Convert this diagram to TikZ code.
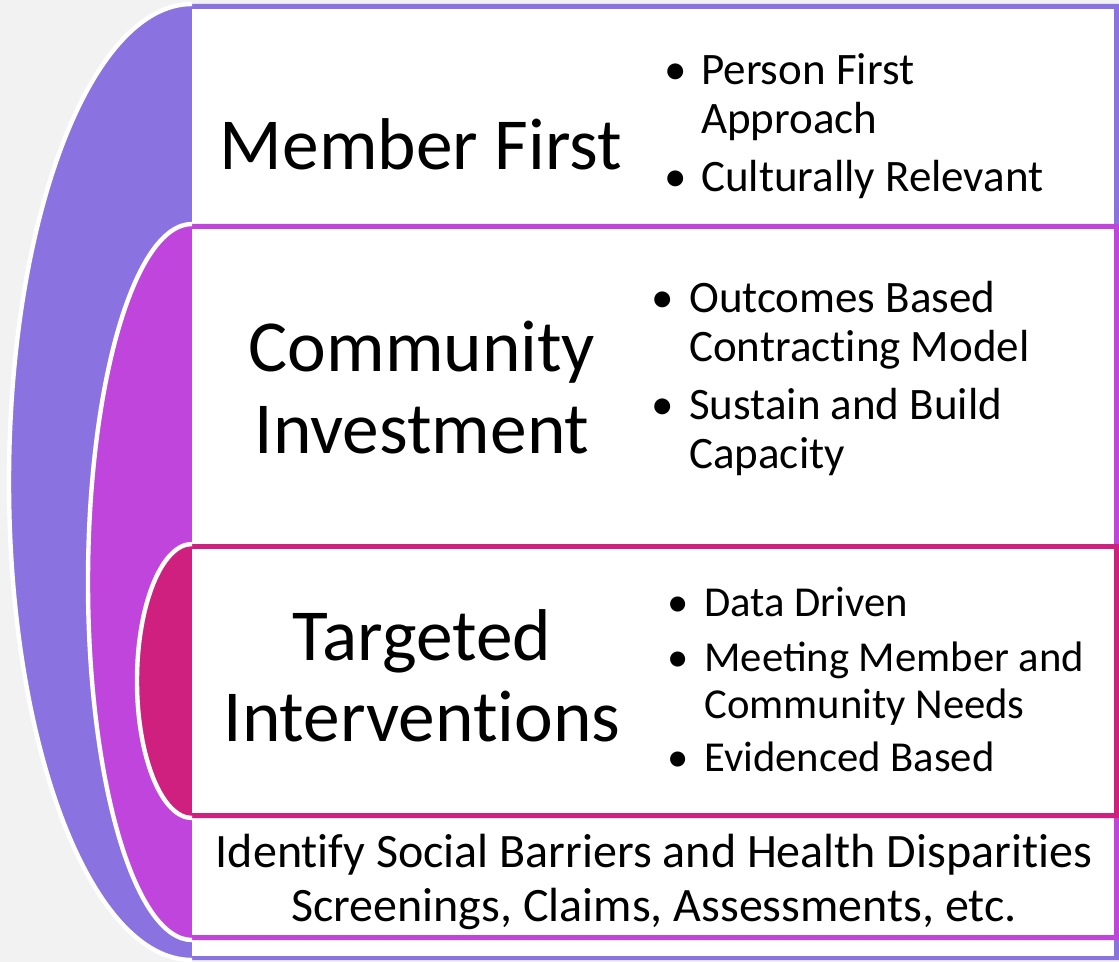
\documentclass[tikz,border=0pt]{standalone}
\usepackage{fontspec}
\setmainfont{Carlito}
\newcommand\nolig{\kern0pt }
\definecolor{cpurple}{HTML}{8A73E0}
\definecolor{cmag}{HTML}{C045DC}
\definecolor{ccrim}{HTML}{CF2080}
\definecolor{cbg}{HTML}{F2F2F2}
\begin{document}
\begin{tikzpicture}[x=0.75pt,y=-0.75pt,
  titletext/.style={font=\fontsize{55}{60}\selectfont, anchor=base, inner sep=0pt},
  bultext/.style={font=\fontsize{33.75}{37}\selectfont, anchor=base west, inner sep=0pt},
  bulsmall/.style={font=\fontsize{32}{35}\selectfont, anchor=base west, inner sep=0pt},
  dotmark/.style={font=\fontsize{33.75}{37}\selectfont, anchor=base, inner sep=0pt},
  dotsmall/.style={font=\fontsize{32}{35}\selectfont, anchor=base, inner sep=0pt},
  basetext/.style={font=\fontsize{36}{40}\selectfont, anchor=base, inner sep=0pt},
  rim/.style={draw=white, line width=3.3pt}]
\fill[cbg] (0,0) rectangle (1119,962);
\useasboundingbox (0,0) rectangle (1119,962);
% outer purple layer
\fill[cpurple] (1119,4) -- (192,4) arc[start angle=270,end angle=90,x radius=183,y radius=478] -- (1119,960) -- cycle;
\draw[rim] (192,4) arc[start angle=270,end angle=90,x radius=183,y radius=478];
\fill[white] (192,9) rectangle (1114,956);
% magenta layer
\fill[cmag] (1119,224) -- (192,224) arc[start angle=270,end angle=90,x radius=104,y radius=358] -- (1119,940) -- cycle;
\draw[rim] (192,224) arc[start angle=270,end angle=90,x radius=104,y radius=358];
\fill[white] (192,229) rectangle (1114,935);
% crimson layer
\fill[ccrim] (1119,544) -- (192,544) arc[start angle=270,end angle=90,x radius=55,y radius=137] -- (1119,818) -- cycle;
\draw[rim] (192,544) arc[start angle=270,end angle=90,x radius=55,y radius=137];
\fill[white] (192,549) rectangle (1114,813);

% titles
\node[titletext] (t1) at (421,170) {Member First};
\node[titletext] (t2a) at (422,371) {Community};
\node[titletext] (t2b) at (422,453) {Investment};
\node[titletext] (t3a) at (422,660) {Targeted};
\node[titletext] (t3b) at (422,741) {Intervent\nolig ions};

% section 1 bullets
\node[dotmark] (d11) at (676,85) {•};
\node[bultext] (b11) at (701,85) {Person First};
\node[bultext] (b12) at (701,134) {Approach};
\node[dotmark] (d12) at (676,192) {•};
\node[bultext] (b13) at (701,192) {Culturally Relevant};

% section 2 bullets
\node[dotmark] (d21) at (663,312) {•};
\node[bultext] (b21) at (689,312) {Outcomes Based};
\node[bultext] (b22) at (689,361) {Contract\nolig ing Model};
\node[dotmark] (d22) at (663,419) {•};
\node[bultext] (b23) at (689,419) {Sustain and Build};
\node[bultext] (b24) at (689,468) {Capacity};

% section 3 bullets
\node[dotsmall] (d31) at (678,616) {•};
\node[bulsmall] (b31) at (704,616) {Data Driven};
\node[dotsmall] (d32) at (678,671) {•};
\node[bulsmall] (b32) at (704,671) {Meeting Member and};
\node[bulsmall] (b33) at (704,718) {Community Needs};
\node[dotsmall] (d33) at (678,771) {•};
\node[bulsmall] (b34) at (704,771) {Evidenced Based};

% base text
\node[basetext] (f1) at (654,867) {Ident\nolig ify Social Barriers and Health Disparit\nolig ies};
\node[basetext] (f2) at (654,921) {Screenings, Claims, Assessments, etc.};
\end{tikzpicture}
\end{document}
